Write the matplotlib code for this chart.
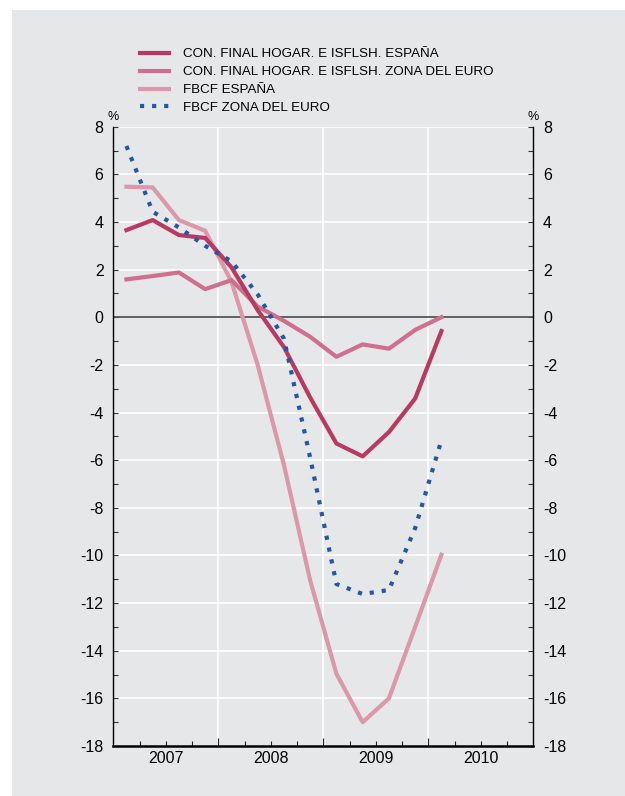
import matplotlib
matplotlib.use('Agg')
import matplotlib.pyplot as plt
from matplotlib.patches import Rectangle

plt.rcParams['font.family'] = ['Liberation Sans', 'DejaVu Sans']
plt.rcParams['axes.unicode_minus'] = False

# quarters 2007Q1 .. 2010Q1
quarters = ['2007Q1', '2007Q2', '2007Q3', '2007Q4',
            '2008Q1', '2008Q2', '2008Q3', '2008Q4',
            '2009Q1', '2009Q2', '2009Q3', '2009Q4',
            '2010Q1']

con_esp = [3.66, 4.08, 3.45, 3.33, 2.1, 0.3, -1.25, -3.37, -5.3, -5.84, -4.82, -3.41, -0.58]
con_euro = [1.59, 1.73, 1.88, 1.18, 1.56, 0.45, -0.15, -0.82, -1.66, -1.14, -1.32, -0.53, 0.0]
fbcf_esp = [5.48, 5.45, 4.08, 3.63, 1.5, -2.0, -6.2, -11.05, -14.97, -17.0, -16.0, -13.0, -9.97]
fbcf_euro = [7.19, 4.43, 3.77, 3.0, 2.35, 0.96, -0.9, -5.9, -11.2, -11.62, -11.45, -8.85, -5.16]

labels = ['CON. FINAL HOGAR. E ISFLSH. ESPAÑA',
          'CON. FINAL HOGAR. E ISFLSH. ZONA DEL EURO',
          'FBCF ESPAÑA',
          'FBCF ZONA DEL EURO']
years = [2007, 2008, 2009, 2010]


def quarter_mid(q):
    # plot each quarter at its middle
    return int(q[:4]) + (int(q[5]) - 1) * 0.25 + 0.125


x = [quarter_mid(q) for q in quarters]

bg = '#e6e7e9'
fig = plt.figure(figsize=(6.25, 7.96), dpi=100)
fig.patches.append(Rectangle((12 / 625, 0), 1, 1 - 10 / 796, transform=fig.transFigure,
                             facecolor=bg, edgecolor='none', zorder=-10))

ax = fig.add_axes([113.3 / 625, 1 - 746 / 796, 420 / 625, (746 - 126.7) / 796])
ax.set_facecolor(bg)

ax.set_xlim(2007, 2011)
ax.set_ylim(-18, 8)

# grid
for v in range(-16, 9, 2):
    if v != 0:
        ax.axhline(v, color='white', lw=1.2, zorder=1)
for yr in years[1:]:
    ax.axvline(yr, color='white', lw=1.2, zorder=1)
ax.axhline(0, color='#555555', lw=1.3, zorder=2)

ax.plot(x, con_esp, color='#b83a60', lw=3, zorder=5, label=labels[0])
ax.plot(x, con_euro, color='#cf6f8d', lw=3, zorder=4, label=labels[1])
ax.plot(x, fbcf_esp, color='#dc97ab', lw=3, zorder=3, label=labels[2])
ax.plot(x, fbcf_euro, color='#2157a6', lw=3, dashes=(1, 1.9), dash_capstyle='butt',
        zorder=6, label=labels[3])

# spines
ax.spines['top'].set_visible(False)
for s in ['left', 'right']:
    ax.spines[s].set_linewidth(1.0)
    ax.spines[s].set_color('black')
ax.spines['bottom'].set_linewidth(1.8)

# y ticks both sides
ax.set_yticks(range(-18, 9, 2))
ax.set_yticks(range(-17, 8, 2), minor=True)
ax.tick_params(axis='y', which='both', direction='in', length=3.5, width=0.8,
               color='#333333', left=True, right=True, labelleft=True, labelright=True,
               labelsize=11.5, pad=7)

# x ticks: year boundaries + quarters, labels mid-year
ax.set_xticks(years[1:])
ax.set_xticklabels([])
ax.set_xticks([yr + f for yr in years for f in (0.25, 0.5, 0.75)], minor=True)
ax.tick_params(axis='x', which='major', direction='in', length=6, width=0.8, color='#222222')
ax.tick_params(axis='x', which='minor', direction='in', length=3.5, width=0.8, color='#222222')
for yr in years:
    ax.text(yr + 0.5, -18.2, str(yr), ha='center', va='top', fontsize=11.5)

ax.text(2007, 8.15, '%', ha='center', va='bottom', fontsize=9)
ax.text(2011, 8.15, '%', ha='center', va='bottom', fontsize=9)

fig.legend(loc='upper left', bbox_to_anchor=(140 / 625, 1 - 48 / 796), frameon=False,
           fontsize=9.6, handlelength=2.2, handletextpad=1.0, labelspacing=0.42,
           borderpad=0, borderaxespad=0)

fig.savefig('out.png', dpi=100)
